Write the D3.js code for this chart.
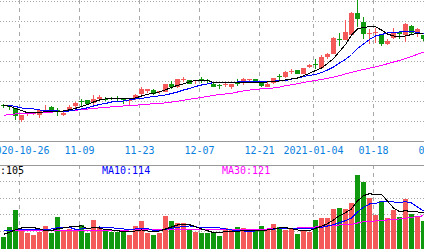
<!DOCTYPE html>
<html>
<head>
<meta charset="utf-8">
<script src="https://cdn.jsdelivr.net/npm/d3@7"></script>
<style>
html, body { margin: 0; padding: 0; background: #fff; overflow: hidden; }
svg { display: block; }
text { font-family: "DejaVu Sans Mono", monospace; font-size: 10px; }
</style>
</head>
<body>
<div id="chart"></div>
<script>
// daily k-line, 2020-10-21 .. 2021-01-28
var dates = ["2020-10-21","2020-10-22","2020-10-23","2020-10-26","2020-10-27","2020-10-28","2020-10-29","2020-10-30",
  "2020-11-02","2020-11-03","2020-11-04","2020-11-05","2020-11-06","2020-11-09","2020-11-10","2020-11-11","2020-11-12","2020-11-13",
  "2020-11-16","2020-11-17","2020-11-18","2020-11-19","2020-11-20","2020-11-23","2020-11-24","2020-11-25","2020-11-26","2020-11-27","2020-11-30",
  "2020-12-01","2020-12-02","2020-12-03","2020-12-04","2020-12-07","2020-12-08","2020-12-09","2020-12-10","2020-12-11",
  "2020-12-14","2020-12-15","2020-12-16","2020-12-17","2020-12-18","2020-12-21","2020-12-22","2020-12-23","2020-12-24","2020-12-25",
  "2020-12-28","2020-12-29","2020-12-30","2020-12-31","2021-01-04","2021-01-05","2021-01-06","2021-01-07","2021-01-08",
  "2021-01-11","2021-01-12","2021-01-13","2021-01-14","2021-01-15","2021-01-18","2021-01-19","2021-01-20","2021-01-21","2021-01-22",
  "2021-01-25","2021-01-26","2021-01-27","2021-01-28"];

var open = [31.70,31.55,31.30,30.15,30.75,30.80,30.60,31.10,31.50,31.20,30.70,31.10,31.55,32.05,32.13,31.87,32.27,32.30,32.37,32.35,
  32.25,32.07,32.20,32.70,33.07,33.13,32.95,33.00,33.80,33.47,34.20,34.10,34.00,34.25,34.15,33.80,33.65,33.60,33.50,33.95,
  33.87,34.17,34.25,33.87,33.50,33.87,34.55,34.47,34.95,35.10,34.80,35.45,35.80,35.40,36.50,36.80,38.27,38.15,38.60,40.90,
  40.00,38.80,38.85,38.60,37.70,38.37,38.97,38.60,39.53,38.70,38.60];
var high = [31.80,31.70,31.40,30.70,31.00,31.00,31.20,31.60,31.52,31.35,30.95,31.60,31.95,32.25,32.15,32.65,32.63,32.43,32.47,32.53,
  32.37,32.20,32.77,33.43,33.22,33.20,33.10,33.75,34.00,34.22,34.50,34.15,34.15,34.45,34.30,33.85,33.80,33.93,33.72,34.27,
  34.35,34.30,34.30,33.90,34.03,34.40,34.80,35.05,35.27,35.15,35.40,35.75,36.20,36.60,36.87,38.45,38.85,40.13,40.93,42.15,
  40.47,39.20,39.37,38.70,38.20,39.37,39.05,39.85,39.60,39.37,38.65];
var low = [31.40,31.10,30.20,29.95,30.50,30.60,30.40,31.00,31.15,30.55,30.50,31.05,31.20,31.55,31.60,31.60,32.13,32.03,32.13,32.03,
  31.80,31.60,32.15,32.65,32.87,32.65,32.80,32.95,33.30,33.40,33.95,33.75,33.75,33.90,33.80,33.45,33.30,33.47,33.30,33.53,
  33.60,33.90,33.95,33.50,33.45,33.80,34.13,34.40,34.70,34.70,34.70,35.35,35.30,35.35,36.20,36.75,37.55,38.10,38.55,39.47,
  38.27,37.70,37.87,37.53,37.65,38.30,38.27,37.93,38.60,38.47,38.03];
var close = [31.60,31.45,30.50,30.65,30.85,30.90,31.10,31.20,31.20,31.00,30.90,31.50,31.90,31.95,31.80,32.30,32.50,32.23,32.27,32.27,
  32.17,32.15,32.60,33.25,33.20,32.70,33.05,33.70,33.50,34.20,34.30,33.80,34.10,34.15,34.05,33.50,33.55,33.75,33.70,33.80,
  34.30,34.27,34.00,33.55,33.70,34.37,34.45,35.00,35.05,34.80,35.35,35.65,35.60,36.45,36.70,38.35,38.13,39.00,40.90,40.20,
  38.70,38.90,38.95,37.70,38.03,39.00,38.70,39.80,38.87,39.30,38.27];

var ma5 = [31.60,31.53,31.30,31.10,30.87,30.87,30.92,30.97,30.97,31.00,31.05,31.17,31.32,31.50,31.70,31.95,32.15,32.25,32.28,32.30,
  32.25,32.28,32.35,32.55,32.72,32.82,32.97,33.17,33.40,33.62,33.77,33.97,34.10,34.13,34.08,33.92,33.87,33.87,33.87,33.88,
  33.90,33.90,33.92,33.93,33.95,33.98,34.05,34.15,34.25,34.35,34.57,34.82,35.10,35.35,35.80,36.30,37.00,37.70,38.65,39.25,
  39.42,39.47,39.47,39.15,38.75,38.55,38.52,38.55,38.70,38.80,38.85];
var ma10 = [31.60,31.60,31.50,31.35,31.30,31.25,31.15,31.10,31.08,31.05,31.03,31.05,31.15,31.25,31.37,31.55,31.70,31.80,31.95,32.00,
  32.05,32.15,32.25,32.30,32.40,32.50,32.57,32.65,32.80,32.95,33.15,33.30,33.50,33.65,33.75,33.90,33.94,33.94,33.94,33.95,
  33.97,33.97,33.99,33.99,34.02,34.04,34.07,34.10,34.25,34.35,34.50,34.60,34.70,34.90,35.15,35.45,35.85,36.20,36.70,37.30,
  37.75,38.20,38.55,38.70,38.85,38.92,38.95,38.98,39.00,38.90,38.75];
var ma30 = [30.62,30.68,30.75,30.80,30.82,30.84,30.87,30.90,30.94,30.98,31.02,31.06,31.12,31.18,31.24,31.30,31.36,31.40,31.46,31.50,
  31.55,31.59,31.63,31.68,31.73,31.78,31.82,31.86,31.94,32.02,32.12,32.22,32.31,32.40,32.50,32.62,32.70,32.75,32.82,32.95,
  33.06,33.14,33.21,33.26,33.30,33.35,33.44,33.58,33.68,33.78,33.90,34.00,34.10,34.20,34.32,34.44,34.58,34.77,34.92,35.07,
  35.20,35.33,35.47,35.60,35.78,35.95,36.10,36.30,36.50,36.72,36.95];

var volume = [35,64,115,57,47,40,50,67,47,95,53,58,53,71,47,85,61,56,50,50,
  50,40,67,83,45,40,45,98,82,77,75,55,50,45,45,50,37,60,55,63,
  60,50,55,67,55,73,63,55,60,43,55,50,85,92,92,118,122,118,137,220,
  200,150,100,142,90,115,95,148,102,95,82];
var volMa5 = [42,48,56,61,62,62,59,52,53,59,61,64,65,68,59,62,61,56,55,53,
  50,50,52,55,52,50,52,58,64,70,72,71,65,58,53,47,47,50,50,51,
  53,52,52,53,55,58,61,62,59,55,53,53,60,66,74,85,98,107,118,142,
  158,164,161,162,142,121,110,113,110,109,107];
var volMa10 = [52,52,55,55,55,56,56,56,58,62,63,63,57,58,58,63,64,63,63,58,
  58,56,58,59,59,54,53,57,60,63,65,67,65,61,61,62,61,58,55,53,
  52,51,52,54,55,57,60,60,60,58,58,58,61,63,67,71,77,83,91,109,
  123,133,135,140,140,139,137,140,136,124,112];
var volMa30 = [53,53,53,53,53,53,53,53,53,53,53,54,54,54,54,54,54,54,54,54,
  54,55,55,55,55,55,55,55,55,55,55,55,55,55,56,56,56,56,56,57,
  57,57,57,57,58,58,58,59,60,61,62,63,64,65,67,69,70,71,72,76,
  80,81,82,83,85,86,88,90,93,95,98];

var tickDates = ["2020-10-26","2020-11-09","2020-11-23","2020-12-07","2020-12-21","2021-01-04","2021-01-18","2021-02-01"];
var tickLabels = ["2020-10-26","11-09","11-23","12-07","12-21","2021-01-04","01-18","02-01"];
var priceGrid = [30,32,34,36,38,40,42];
var volGrid = [50,100,150,200];
var volLabels = ["MA5:105","MA10:114","MA30:121"];

var width = 424, height = 249;
var upColour = "#f55a5a", downColour = "#10990f";
var lineColours = ["#000000","#0000ff","#ff00ff"];
var gridColour = "#a8a8a8";

var svg = d3.select("#chart")
    .append("svg")
    .attr("width", width)
    .attr("height", height);

// two trading days after the last candle so the 02-01 tick has a slot
var axisDates = dates.concat(["2021-01-29","2021-02-01"]);
var x = d3.scalePoint()
    .domain(axisDates)
    .range([1, 1 + 6 * (axisDates.length - 1)]);
var y = d3.scaleLinear().domain([28, 42]).range([141.5, 1.5]);
var yv = d3.scaleLinear().domain([0, 250]).range([248.33, 165]);

// grid
svg.selectAll(".pgrid").data(priceGrid).enter().append("line")
    .attr("x1", 0).attr("x2", width)
    .attr("y1", function(d){ return y(d); }).attr("y2", function(d){ return y(d); })
    .attr("stroke", gridColour).attr("stroke-dasharray", "1,2")
    .attr("shape-rendering", "crispEdges");
svg.selectAll(".vgrid").data(volGrid).enter().append("line")
    .attr("x1", 0).attr("x2", width)
    .attr("y1", function(d){ return Math.floor(yv(d)) + 0.5; })
    .attr("y2", function(d){ return Math.floor(yv(d)) + 0.5; })
    .attr("stroke", gridColour).attr("stroke-dasharray", "1,2")
    .attr("shape-rendering", "crispEdges");

[[0, y(28)], [yv(250), height]].forEach(function(span){
  svg.selectAll(null).data(tickDates).enter().append("line")
      .attr("x1", function(d){ return x(d) + 0.5; })
      .attr("x2", function(d){ return x(d) + 0.5; })
      .attr("y1", span[0]).attr("y2", span[1])
      .attr("stroke", gridColour).attr("stroke-dasharray", "4,4")
      .attr("shape-rendering", "crispEdges");
});

// panel borders
[y(28), Math.floor(yv(250)) + 0.5].forEach(function(yy){
  svg.append("line")
      .attr("x1", 0).attr("x2", width).attr("y1", yy).attr("y2", yy)
      .attr("stroke", "#999").attr("shape-rendering", "crispEdges");
});

// date labels
svg.selectAll(".date").data(tickDates).enter().append("text")
    .attr("x", function(d){ return x(d) + 0.5; })
    .attr("y", 154)
    .attr("text-anchor", "middle")
    .attr("fill", "#0a7fe0")
    .text(function(d, i){ return tickLabels[i]; });

// candles
var idx = d3.range(dates.length);
function colour(i){ return close[i] >= open[i] ? upColour : downColour; }

svg.selectAll(".wick").data(idx).enter().append("rect")
    .attr("x", function(i){ return x(dates[i]) + 2; })
    .attr("width", 1)
    .attr("y", function(i){ return Math.round(y(high[i])); })
    .attr("height", function(i){ return Math.max(1, Math.round(y(low[i])) - Math.round(y(high[i]))); })
    .attr("fill", colour)
    .attr("shape-rendering", "crispEdges");
svg.selectAll(".body").data(idx).enter().append("rect")
    .attr("x", function(i){ return x(dates[i]); })
    .attr("width", 5)
    .attr("y", function(i){ return Math.round(y(Math.max(open[i], close[i]))); })
    .attr("height", function(i){
      return Math.max(1, Math.round(y(Math.min(open[i], close[i]))) - Math.round(y(Math.max(open[i], close[i]))));
    })
    .attr("fill", colour)
    .attr("shape-rendering", "crispEdges");

// moving averages
function drawLine(values, scale, col){
  var line = d3.line()
      .x(function(d, i){ return x(dates[i]) + 2.5; })
      .y(function(d){ return scale(d); });
  svg.append("path")
      .datum(values)
      .attr("d", line)
      .attr("fill", "none")
      .attr("stroke", col)
      .attr("stroke-width", 1)
      .attr("shape-rendering", "crispEdges");
}

// volume bars
svg.selectAll(".vol").data(idx).enter().append("rect")
    .attr("x", function(i){ return x(dates[i]); })
    .attr("width", 5)
    .attr("y", function(i){ return Math.round(yv(volume[i])); })
    .attr("height", function(i){ return height - Math.round(yv(volume[i])); })
    .attr("fill", colour)
    .attr("shape-rendering", "crispEdges");

drawLine(ma30, y, lineColours[2]);
drawLine(ma10, y, lineColours[1]);
drawLine(ma5, y, lineColours[0]);
drawLine(volMa30, yv, lineColours[2]);
drawLine(volMa10, yv, lineColours[1]);
drawLine(volMa5, yv, lineColours[0]);

// volume MA labels
svg.selectAll(".vlab").data(volLabels).enter().append("text")
    .attr("x", function(d, i){ return -18 + 120 * i; })
    .attr("y", 174)
    .attr("fill", function(d, i){ return lineColours[i]; })
    .text(function(d){ return d; });
</script>
</body>
</html>
